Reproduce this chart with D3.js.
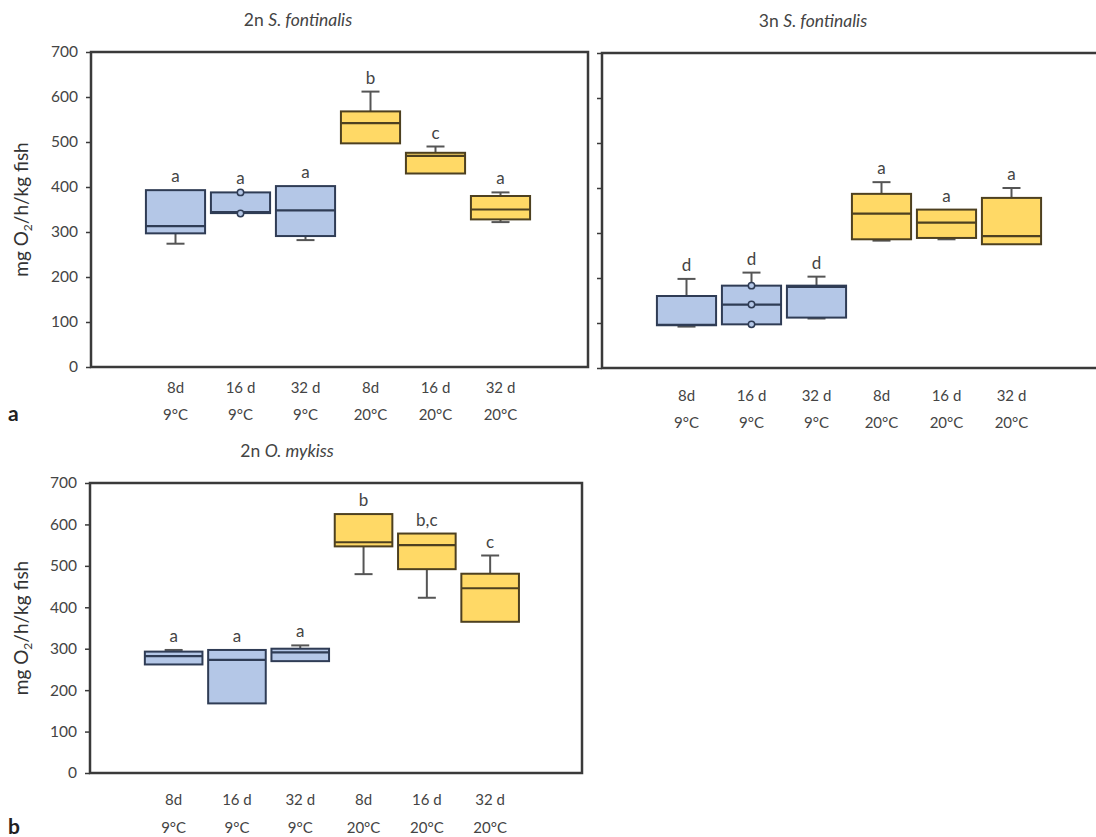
<!DOCTYPE html>
<html>
<head>
<meta charset="utf-8">
<script src="https://cdn.jsdelivr.net/npm/d3@7"></script>
<style>
body { margin: 0; background: #fff; }
svg { display: block; }
</style>
</head>
<body>
<div id="container"></div>
<script>
let l = console.log

// categories
const days = ["8d", "16 d", "32 d", "8d", "16 d", "32 d"]
const temps = ["9°C", "9°C", "9°C", "20°C", "20°C", "20°C"]
const groups = [9, 9, 9, 20, 20, 20]
const yTicks = [0, 100, 200, 300, 400, 500, 600, 700]

// 2n S. fontinalis
const lowA = [274, null, 282, null, null, 322]
const q1A = [297, 342, 291, 497, 430, 328]
const medA = [313, 344, 348, 542, 469, 350]
const q3A = [393, 388, 402, 568, 476, 380]
const highA = [null, null, null, 612, 490, 388]
const dotsA = [[], [388, 341], [], [], [], []]
const lettersA = ["a", "a", "a", "b", "c", "a"]

// 3n S. fontinalis
const lowB = [92, null, 110, 283, 286, null]
const q1B = [95, 97, 112, 286, 289, 275]
const medB = [96, 141, 180, 343, 323, 293]
const q3B = [160, 183, 183, 387, 352, 378]
const highB = [198, 212, 203, 413, null, 400]
const dotsB = [[], [183, 141, 97], [], [], [], []]
const lettersB = ["d", "d", "d", "a", "a", "a"]

// 2n O. mykiss
const lowC = [null, null, null, 480, 423, null]
const q1C = [262, 168, 270, 547, 492, 365]
const medC = [282, 273, 291, 557, 550, 446]
const q3C = [293, 297, 300, 625, 578, 481]
const highC = [297, null, 308, null, null, 525]
const dotsC = [[], [], [], [], [], []]
const lettersC = ["a", "a", "a", "b", "b,c", "c"]

const font = "Lato, 'Open Sans', sans-serif"
const ink = "#3a3a3a"
const fill = { 9: "#b4c7e7", 20: "#ffd966" }
const edge = { 9: "#2f3c55", 20: "#4d4020" }

let svg = d3.select("#container").append("svg")
    .attr("width", 1096)
    .attr("height", 837)

function pack(low, q1, med, q3, high, dots, letters) {
    return days.map((d, i) => ({
        i: i, g: groups[i], low: low[i], q1: q1[i], med: med[i], q3: q3[i],
        high: high[i], dots: dots[i], letter: letters[i]
    }))
}

function draw(data, o) {
    let g = svg.append("g")
    let x = d3.scaleBand()
        .domain(d3.range(days.length))
        .range([o.x0 + 52, o.x0 + 52 + 6 * o.step])
        .paddingInner(0.09)
        .paddingOuter(0.045)
    let y = d3.scaleLinear().domain([0, 700]).range([o.y1, o.y0])
    let bw = x.bandwidth()

    // title
    let t = g.append("text")
        .attr("x", o.x0 + o.tx)
        .attr("y", o.y0 - 26)
        .attr("text-anchor", "middle")
        .attr("font-family", font)
        .attr("font-size", 17.5)
        .attr("fill", "#444")
    t.append("tspan").text(o.title[0])
    t.append("tspan").attr("font-style", "italic").text(o.title[1])

    // y axis ticks
    let axis = d3.axisLeft(y).tickValues(yTicks).tickSize(5).tickPadding(8)
    if (!o.labels) axis.tickFormat("")
    let ag = g.append("g").attr("transform", `translate(${o.x0},0)`).call(axis)
    ag.select(".domain").remove()
    ag.selectAll("line").attr("stroke", ink).attr("stroke-width", 1.5)
    ag.selectAll("text")
        .attr("font-family", font)
        .attr("font-size", 15.5)
        .attr("fill", "#444")

    if (o.ytitle) {
        let yt = g.append("text")
            .attr("transform", `translate(28,${(o.y0 + o.y1) / 2}) rotate(-90)`)
            .attr("text-anchor", "middle")
            .attr("font-family", font)
            .attr("font-size", 19)
            .attr("fill", "#333")
        yt.append("tspan").text("mg O")
        yt.append("tspan").attr("font-size", 12).attr("dy", 4).text("2")
        yt.append("tspan").attr("dy", -4).text("/h/kg fish")
    }

    // whiskers
    let wk = []
    data.forEach(d => {
        if (d.high != null) wk.push({ d: d, a: d.q3, b: d.high })
        if (d.low != null) wk.push({ d: d, a: d.q1, b: d.low })
    })
    let cx = d => x(d.i) + bw / 2
    g.selectAll(".wl").data(wk).join("line")
        .attr("x1", w => cx(w.d)).attr("x2", w => cx(w.d))
        .attr("y1", w => y(w.a)).attr("y2", w => y(w.b))
        .attr("stroke", "#555").attr("stroke-width", 2)
    g.selectAll(".wc").data(wk).join("line")
        .attr("x1", w => cx(w.d) - 9).attr("x2", w => cx(w.d) + 9)
        .attr("y1", w => y(w.b)).attr("y2", w => y(w.b))
        .attr("stroke", "#555").attr("stroke-width", 2)

    // boxes
    g.selectAll(".box").data(data).join("rect")
        .attr("x", d => x(d.i))
        .attr("width", bw)
        .attr("y", d => y(d.q3))
        .attr("height", d => y(d.q1) - y(d.q3))
        .attr("fill", d => fill[d.g])
        .attr("stroke", d => edge[d.g])
        .attr("stroke-width", 2)
    g.selectAll(".med").data(data).join("line")
        .attr("x1", d => x(d.i)).attr("x2", d => x(d.i) + bw)
        .attr("y1", d => y(d.med)).attr("y2", d => y(d.med))
        .attr("stroke", d => edge[d.g]).attr("stroke-width", 2.2)

    data.forEach(d => {
        g.selectAll(null).data(d.dots).join("circle")
            .attr("cx", cx(d)).attr("cy", v => y(v)).attr("r", 3.2)
            .attr("fill", fill[d.g]).attr("stroke", edge[d.g]).attr("stroke-width", 1.5)
    })

    // significance letters
    g.selectAll(".let").data(data).join("text")
        .attr("x", d => cx(d))
        .attr("y", d => y(Math.max(d.q3, d.high == null ? 0 : d.high)) - 8)
        .attr("text-anchor", "middle")
        .attr("font-family", font)
        .attr("font-size", 17)
        .attr("fill", "#444")
        .text(d => d.letter)

    // frame
    g.append("rect")
        .attr("x", o.x0).attr("y", o.y0)
        .attr("width", o.x1 - o.x0).attr("height", o.y1 - o.y0)
        .attr("fill", "none").attr("stroke", ink).attr("stroke-width", 2.5)

    // x category labels
    let xl = g.selectAll(".xl").data(data).join("text")
        .attr("text-anchor", "middle")
        .attr("font-family", font)
        .attr("font-size", 15)
        .attr("fill", "#444")
    xl.append("tspan").attr("x", d => cx(d)).attr("y", o.y1 + o.d1).text(d => days[d.i])
    xl.append("tspan").attr("x", d => cx(d)).attr("y", o.y1 + o.d2).text(d => temps[d.i])

    if (o.letter) {
        g.append("text")
            .attr("x", 8).attr("y", o.y1 + o.d2 + 1)
            .attr("font-family", font)
            .attr("font-weight", "bold")
            .attr("font-size", 21)
            .attr("fill", "#222")
            .text(o.letter)
    }
}

draw(pack(lowA, q1A, medA, q3A, highA, dotsA, lettersA), {
    x0: 91, x1: 588, y0: 52, y1: 367, step: 65, tx: 207,
    title: ["2n ", "S. fontinalis"], labels: true, ytitle: true,
    d1: 26, d2: 53, letter: "a"
})
draw(pack(lowB, q1B, medB, q3B, highB, dotsB, lettersB), {
    x0: 602, x1: 1104, y0: 53, y1: 368, step: 65, tx: 211,
    title: ["3n ", "S. fontinalis"], labels: false, ytitle: false,
    d1: 33, d2: 60, letter: null
})
draw(pack(lowC, q1C, medC, q3C, highC, dotsC, lettersC), {
    x0: 90, x1: 582, y0: 483, y1: 773, step: 63.3, tx: 197,
    title: ["2n ", "O. mykiss"], labels: true, ytitle: true,
    d1: 32, d2: 60, letter: "b"
})
</script>
</body>
</html>
